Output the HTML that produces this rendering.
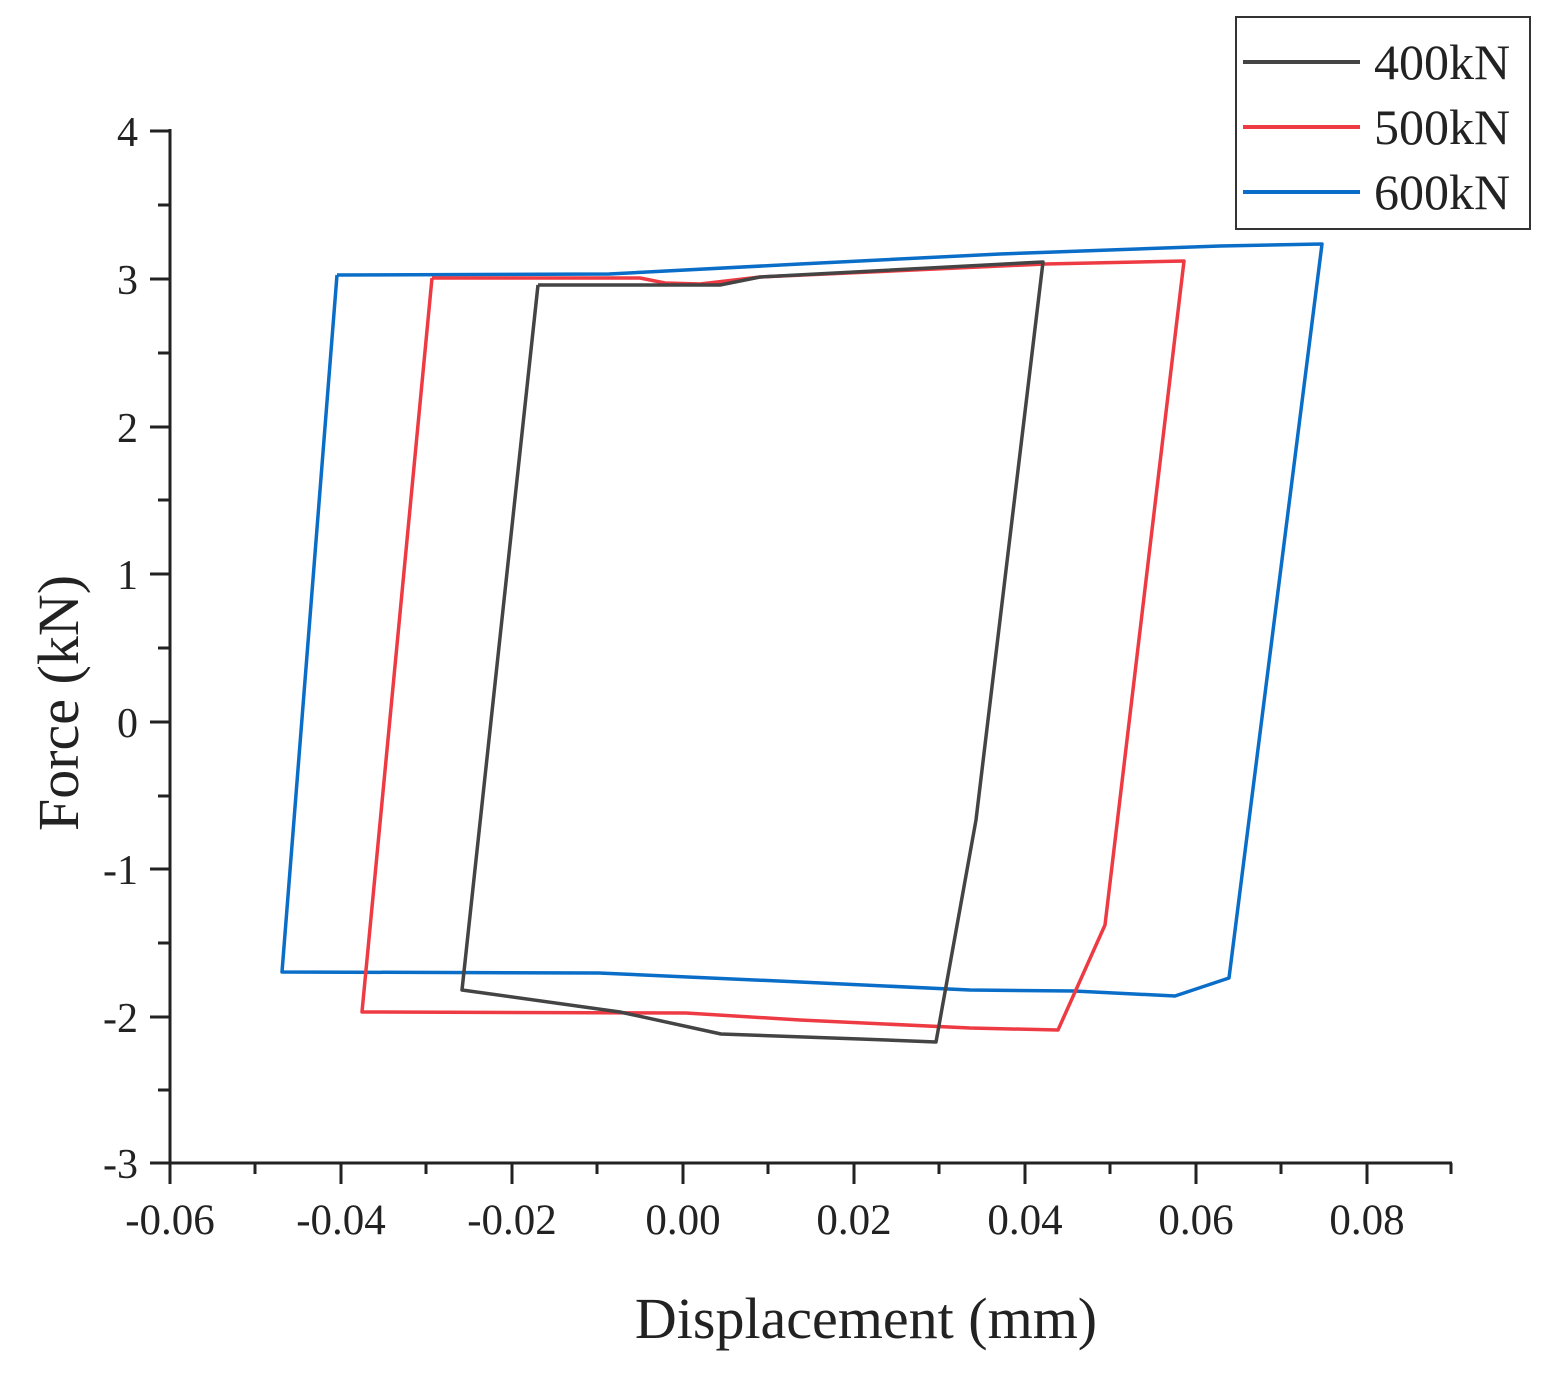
<!DOCTYPE html>
<html><head><meta charset="utf-8"><style>
html,body{margin:0;padding:0;background:#fff;}
svg{display:block;}
text{font-family:"Liberation Serif",serif;fill:#222;}
</style></head><body>
<svg width="1561" height="1375" viewBox="0 0 1561 1375" xmlns="http://www.w3.org/2000/svg">
<g stroke="#222" stroke-width="3" fill="none">
<line x1="170" y1="129" x2="170" y2="1164"/>
<line x1="168" y1="1163" x2="1452" y2="1163"/>
<line x1="150" y1="131" x2="170" y2="131"/>
<line x1="150" y1="279" x2="170" y2="279"/>
<line x1="150" y1="427" x2="170" y2="427"/>
<line x1="150" y1="574" x2="170" y2="574"/>
<line x1="150" y1="722" x2="170" y2="722"/>
<line x1="150" y1="869" x2="170" y2="869"/>
<line x1="150" y1="1017" x2="170" y2="1017"/>
<line x1="150" y1="1163" x2="170" y2="1163"/>
<line x1="158" y1="205" x2="170" y2="205"/>
<line x1="158" y1="353" x2="170" y2="353"/>
<line x1="158" y1="500" x2="170" y2="500"/>
<line x1="158" y1="648" x2="170" y2="648"/>
<line x1="158" y1="796" x2="170" y2="796"/>
<line x1="158" y1="943" x2="170" y2="943"/>
<line x1="158" y1="1090" x2="170" y2="1090"/>
<line x1="170" y1="1163" x2="170" y2="1184"/>
<line x1="341" y1="1163" x2="341" y2="1184"/>
<line x1="512" y1="1163" x2="512" y2="1184"/>
<line x1="683" y1="1163" x2="683" y2="1184"/>
<line x1="854" y1="1163" x2="854" y2="1184"/>
<line x1="1025" y1="1163" x2="1025" y2="1184"/>
<line x1="1196" y1="1163" x2="1196" y2="1184"/>
<line x1="1367" y1="1163" x2="1367" y2="1184"/>
<line x1="255" y1="1163" x2="255" y2="1174"/>
<line x1="426" y1="1163" x2="426" y2="1174"/>
<line x1="597" y1="1163" x2="597" y2="1174"/>
<line x1="768" y1="1163" x2="768" y2="1174"/>
<line x1="939" y1="1163" x2="939" y2="1174"/>
<line x1="1110" y1="1163" x2="1110" y2="1174"/>
<line x1="1281" y1="1163" x2="1281" y2="1174"/>
<line x1="1451" y1="1163" x2="1451" y2="1174"/>
</g>
<g font-size="42" text-anchor="end">
<text x="138" y="146">4</text>
<text x="138" y="294">3</text>
<text x="138" y="442">2</text>
<text x="138" y="589">1</text>
<text x="138" y="737">0</text>
<text x="138" y="884">-1</text>
<text x="138" y="1032">-2</text>
<text x="138" y="1178">-3</text>
</g>
<g font-size="43" text-anchor="middle">
<text x="170" y="1234">-0.06</text>
<text x="341" y="1234">-0.04</text>
<text x="512" y="1234">-0.02</text>
<text x="683" y="1234">0.00</text>
<text x="854" y="1234">0.02</text>
<text x="1025" y="1234">0.04</text>
<text x="1196" y="1234">0.06</text>
<text x="1367" y="1234">0.08</text>
</g>
<text x="866" y="1338" font-size="58" text-anchor="middle">Displacement (mm)</text>
<text transform="translate(78,703) rotate(-90)" font-size="58" text-anchor="middle">Force (kN)</text>
<g fill="none" stroke-width="3.5" stroke-linejoin="round">
<polyline stroke="#0a6ec8" points="337,275 609,274 800,264 1000,254 1220,246 1322,244 1229,978 1175,996 1074,991 970,990 800,982 599,973 282,972 337,275"/>
<polyline stroke="#ee3b43" points="432,278 640,278 665,283 700,284 760,277 1045,264 1184,261 1105,925 1058,1030 970,1028 800,1020 686,1013 362,1012 432,278"/>
<polyline stroke="#444" points="538,285 720,285 760,277 1043,262 976,820 936,1042 860,1039 721,1034 620,1012 462,990 538,285"/>
</g>
<rect x="1236" y="17" width="294" height="212" fill="#fff" stroke="#333" stroke-width="2"/>
<line x1="1243" y1="62" x2="1360" y2="62" stroke="#444" stroke-width="4"/>
<line x1="1243" y1="127" x2="1360" y2="127" stroke="#ee3b43" stroke-width="4"/>
<line x1="1243" y1="192" x2="1360" y2="192" stroke="#0a6ec8" stroke-width="4"/>
<g font-size="50">
<text x="1374" y="79">400kN</text>
<text x="1374" y="144">500kN</text>
<text x="1374" y="209">600kN</text>
</g>
</svg>
</body></html>
